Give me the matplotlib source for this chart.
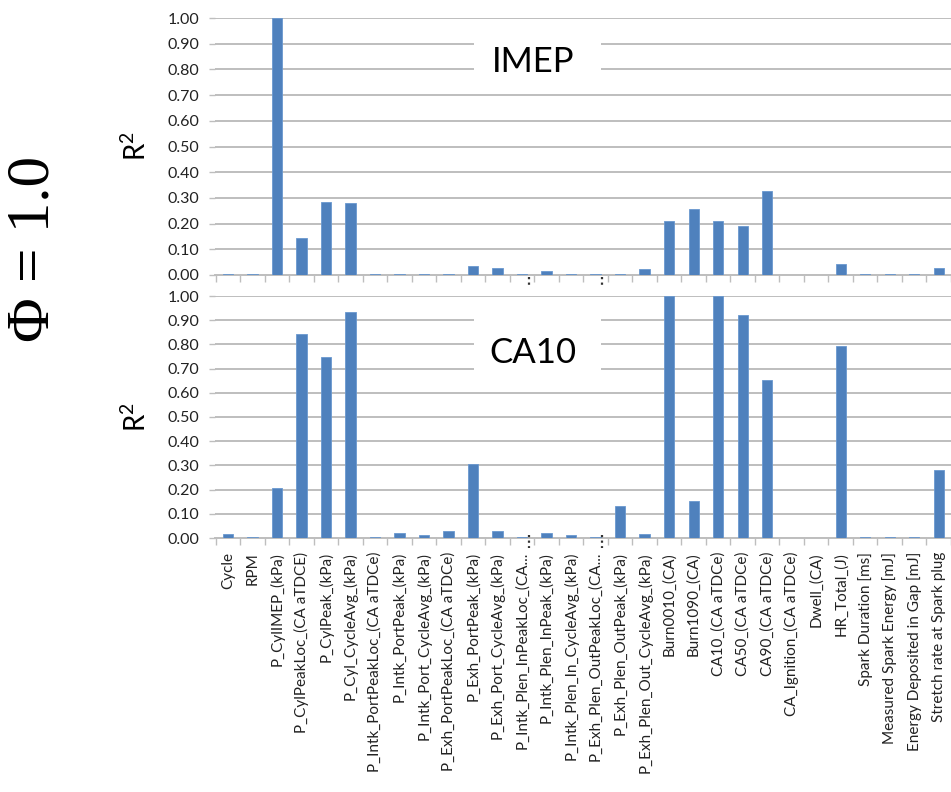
"""
R^2 of each measured quantity against IMEP and CA10 (Phi = 1.0).
Result: out.png
"""

import matplotlib
matplotlib.use("Agg")
import matplotlib.pyplot as plt
import matplotlib.patches as mpatches
import matplotlib.transforms as mtransforms

# ── Data ────────────────────────────────────────────────────────────────
CATEGORIES = [
    "Cycle",
    "RPM",
    "P_CylIMEP_(kPa)",
    "P_CylPeakLoc_(CA aTDCE)",
    "P_CylPeak_(kPa)",
    "P_Cyl_CycleAvg_(kPa)",
    "P_Intk_PortPeakLoc_(CA aTDCe)",
    "P_Intk_PortPeak_(kPa)",
    "P_Intk_Port_CycleAvg_(kPa)",
    "P_Exh_PortPeakLoc_(CA aTDCe)",
    "P_Exh_PortPeak_(kPa)",
    "P_Exh_Port_CycleAvg_(kPa)",
    "P_Intk_Plen_InPeakLoc_(CA...",
    "P_Intk_Plen_InPeak_(kPa)",
    "P_Intk_Plen_In_CycleAvg_(kPa)",
    "P_Exh_Plen_OutPeakLoc_(CA...",
    "P_Exh_Plen_OutPeak_(kPa)",
    "P_Exh_Plen_Out_CycleAvg_(kPa)",
    "Burn0010_(CA)",
    "Burn1090_(CA)",
    "CA10_(CA aTDCe)",
    "CA50_(CA aTDCe)",
    "CA90_(CA aTDCe)",
    "CA_Ignition_(CA aTDCe)",
    "Dwell_(CA)",
    "HR_Total_(J)",
    "Spark Duration [ms]",
    "Measured Spark Energy [mJ]",
    "Energy Deposited in Gap [mJ]",
    "Stretch rate at Spark plug",
]

R2_IMEP = [
    0.003, 0.003, 1.000, 0.143, 0.285, 0.279, 0.003, 0.003, 0.003, 0.003,
    0.034, 0.026, 0.003, 0.015, 0.003, 0.003, 0.003, 0.022, 0.210, 0.258,
    0.210, 0.192, 0.328, 0.000, 0.000, 0.041, 0.003, 0.003, 0.003, 0.026,
]

R2_CA10 = [
    0.018, 0.006, 0.205, 0.843, 0.748, 0.932, 0.004, 0.022, 0.014, 0.029,
    0.305, 0.029, 0.004, 0.022, 0.014, 0.004, 0.131, 0.018, 1.000, 0.153,
    1.000, 0.922, 0.653, 0.000, 0.000, 0.792, 0.004, 0.004, 0.004, 0.283,
]

Y_TICKS = [0.0, 0.1, 0.2, 0.3, 0.4, 0.5, 0.6, 0.7, 0.8, 0.9, 1.0]

# ── Styles ───────────────────────────────────────────────────────────────
BAR_COLOR = "#4F81BD"
GRID_COLOR = "#BEBEBE"
TEXT_COLOR = "#222222"
FONT = ["Lato", "DejaVu Sans"]


def style_panel(ax, values, title, title_xy, box, show_labels):
    """Одна панель: бары, сетка, подписи."""
    n = len(values)
    xs = list(range(n))
    ax.bar(xs, values, width=0.42, color=BAR_COLOR, edgecolor="#6A98CF",
           linewidth=0.6, zorder=3)

    ax.set_xlim(-0.53, n - 0.61)
    ax.set_ylim(0, 1.0)
    ax.set_yticks(Y_TICKS)
    ax.set_yticklabels([f"{v:.2f}" for v in Y_TICKS], fontsize=11.5,
                       family=FONT, color=TEXT_COLOR)
    ax.yaxis.grid(True, color=GRID_COLOR, lw=1.4, zorder=0)
    ax.set_axisbelow(True)
    ax.tick_params(axis="y", length=4, width=1, color=GRID_COLOR,
                   direction="out", pad=7)

    # tick marks between categories, labels at centres
    ax.set_xticks([i - 0.5 for i in range(n + 1)])
    ax.set_xticklabels([])
    ax.tick_params(axis="x", which="major", length=5, width=1,
                   color=GRID_COLOR, direction="out")
    ax.set_xticks(xs, minor=True)
    if show_labels:
        ax.set_xticklabels(CATEGORIES, minor=True, rotation=90,
                           fontsize=11, family=FONT, color=TEXT_COLOR,
                           va="top", ha="center")
    ax.tick_params(axis="x", which="minor", length=0, pad=10)

    for side in ("left", "right", "top"):
        ax.spines[side].set_visible(False)
    ax.spines["bottom"].set_color(GRID_COLOR)
    ax.spines["bottom"].set_linewidth(1.4)

    # белая подложка под заголовком
    x0, x1, y0, y1 = box
    ax.add_patch(mpatches.Rectangle((x0, y0), x1 - x0, y1 - y0, fc="white",
                                    ec="none", zorder=1))
    ax.text(title_xy[0], title_xy[1], title, ha="center", va="center",
            fontsize=25, family=FONT, color="black", zorder=2)

    ax.set_ylabel("R$^2$", fontsize=20, family=FONT, color="black",
                  labelpad=12)


def dotted_marks(ax, xs, y0, y1):
    trans = mtransforms.blended_transform_factory(ax.transData, ax.transAxes)
    for x in xs:
        ax.plot([x, x], [y0, y1], transform=trans, ls=(0, (1, 1.5)),
                lw=1.6, color="#333333", clip_on=False, zorder=5)


def main():
    fig = plt.figure(figsize=(9.51, 7.92), dpi=100)
    fig.patch.set_facecolor("white")
    plt.rcParams["mathtext.fontset"] = "custom"
    plt.rcParams["mathtext.rm"] = "Lato"

    left, width = 215 / 951, 736 / 951
    ax_top = fig.add_axes([left, 1 - 275 / 792, width, 257 / 792])
    ax_bot = fig.add_axes([left, 1 - 538 / 792, width, 242 / 792])

    style_panel(ax_top, R2_IMEP, "IMEP", (12.45, 0.827),
                (10.05, 15.2, 0.76, 0.95), show_labels=False)
    style_panel(ax_bot, R2_CA10, "CA10", (12.45, 0.765),
                (10.05, 15.2, 0.65, 0.95), show_labels=True)

    dotted_marks(ax_top, [12.28, 15.24], -0.008, -0.05)
    dotted_marks(ax_bot, [12.28, 15.24], 0.012, -0.042)

    fig.text(34 / 951, 1 - 249 / 792, "Φ = 1.0", rotation=90,
             ha="center", va="center", fontsize=44,
             family=["Liberation Serif", "DejaVu Serif"], color="black")

    fig.savefig("out.png", dpi=100)
    plt.close(fig)


if __name__ == "__main__":
    main()
